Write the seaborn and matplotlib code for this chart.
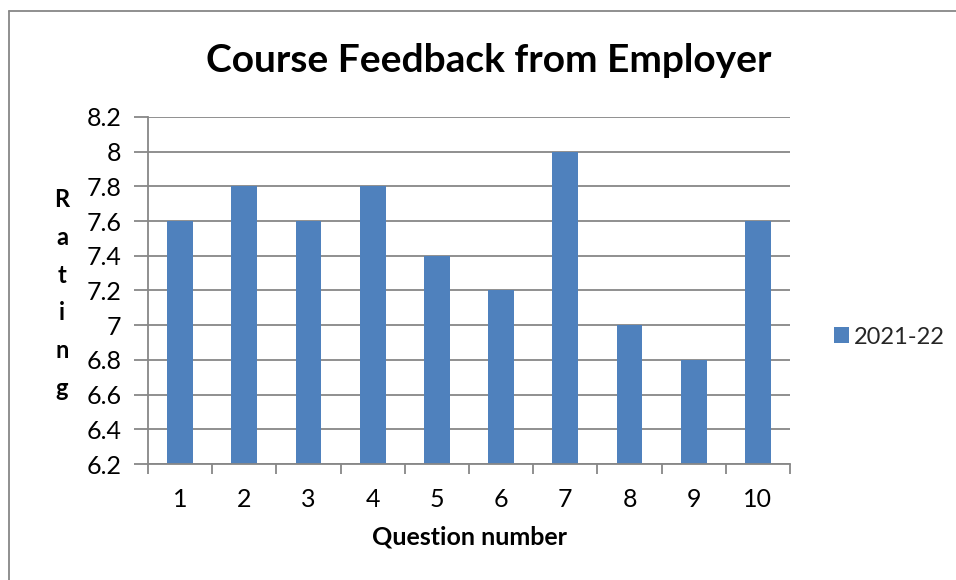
import matplotlib
matplotlib.use("Agg")
import matplotlib.pyplot as plt
from matplotlib.lines import Line2D
from matplotlib.ticker import FixedLocator, MultipleLocator
import seaborn as sns
import pandas as pd

questions = ["1", "2", "3", "4", "5", "6", "7", "8", "9", "10"]
ratings = [7.6, 7.8, 7.6, 7.8, 7.4, 7.2, 8.0, 7.0, 6.8, 7.6]
series_name = "2021-22"

title = "Course Feedback from Employer"
x_title = "Question number"
y_title = "Rating"

sns.set_theme(style="white")
plt.rcParams["font.family"] = ["Lato", "DejaVu Sans"]

bar_color = "#4F81BD"
grid_color = "#878787"

df = pd.DataFrame({"question": questions, "rating": ratings})

fig = plt.figure(figsize=(9.56, 5.8), dpi=100)
ax = fig.add_axes([148 / 956, 1 - 464 / 580, (790 - 148) / 956, (464 - 117) / 580])

sns.barplot(data=df, x="question", y="rating", color=bar_color, width=0.4,
            saturation=1, label=series_name, linewidth=0, ax=ax)

ax.set_ylim(6.2, 8.2)
ax.set_xlim(-0.5, len(questions) - 0.5)
ax.yaxis.set_major_locator(MultipleLocator(0.2))
ax.set_yticklabels([f"{v:g}" for v in ax.get_yticks()])
ax.yaxis.grid(True, color=grid_color, linewidth=1.3)
ax.set_axisbelow(True)

for side in ("top", "right"):
    ax.spines[side].set_visible(False)
for side in ("left", "bottom"):
    ax.spines[side].set_color(grid_color)
    ax.spines[side].set_linewidth(1.3)

ax.tick_params(axis="y", which="major", left=True, length=10, width=1.3,
               color=grid_color, labelsize=18, pad=9)
ax.tick_params(axis="x", which="major", bottom=False, labelsize=18, pad=11)
ax.xaxis.set_minor_locator(FixedLocator([i - 0.5 for i in range(len(questions) + 1)]))
ax.tick_params(axis="x", which="minor", bottom=True, length=7, width=1.3,
               color=grid_color)
for lbl in ax.get_xticklabels() + ax.get_yticklabels():
    lbl.set_color("black")

ax.set_xlabel(x_title, fontsize=18, fontweight="bold", labelpad=11, color="black")
ax.set_ylabel("")

fig.text(489 / 956, 1 - 60 / 580, title, ha="center", va="center",
         fontsize=28, fontweight="bold", color="black")
fig.text(62 / 956, 1 - 294 / 580, "\n".join(y_title), ha="center", va="center",
         fontsize=17, fontweight="bold", linespacing=1.78, color="black")

ax.legend(loc="center left", bbox_to_anchor=(813 / 956, 1 - 337 / 580),
          bbox_transform=fig.transFigure, frameon=False, fontsize=17,
          handlelength=0.63, handleheight=0.63, handletextpad=0.2)

# chart-area border along the left and top edges
fig.add_artist(Line2D([9 / 956, 9 / 956], [-0.1, 1 - 11 / 580],
                      transform=fig.transFigure, color=grid_color, linewidth=1.3))
fig.add_artist(Line2D([9 / 956, 1.1], [1 - 11 / 580, 1 - 11 / 580],
                      transform=fig.transFigure, color=grid_color, linewidth=1.3))

fig.savefig("out.png", dpi=100)
